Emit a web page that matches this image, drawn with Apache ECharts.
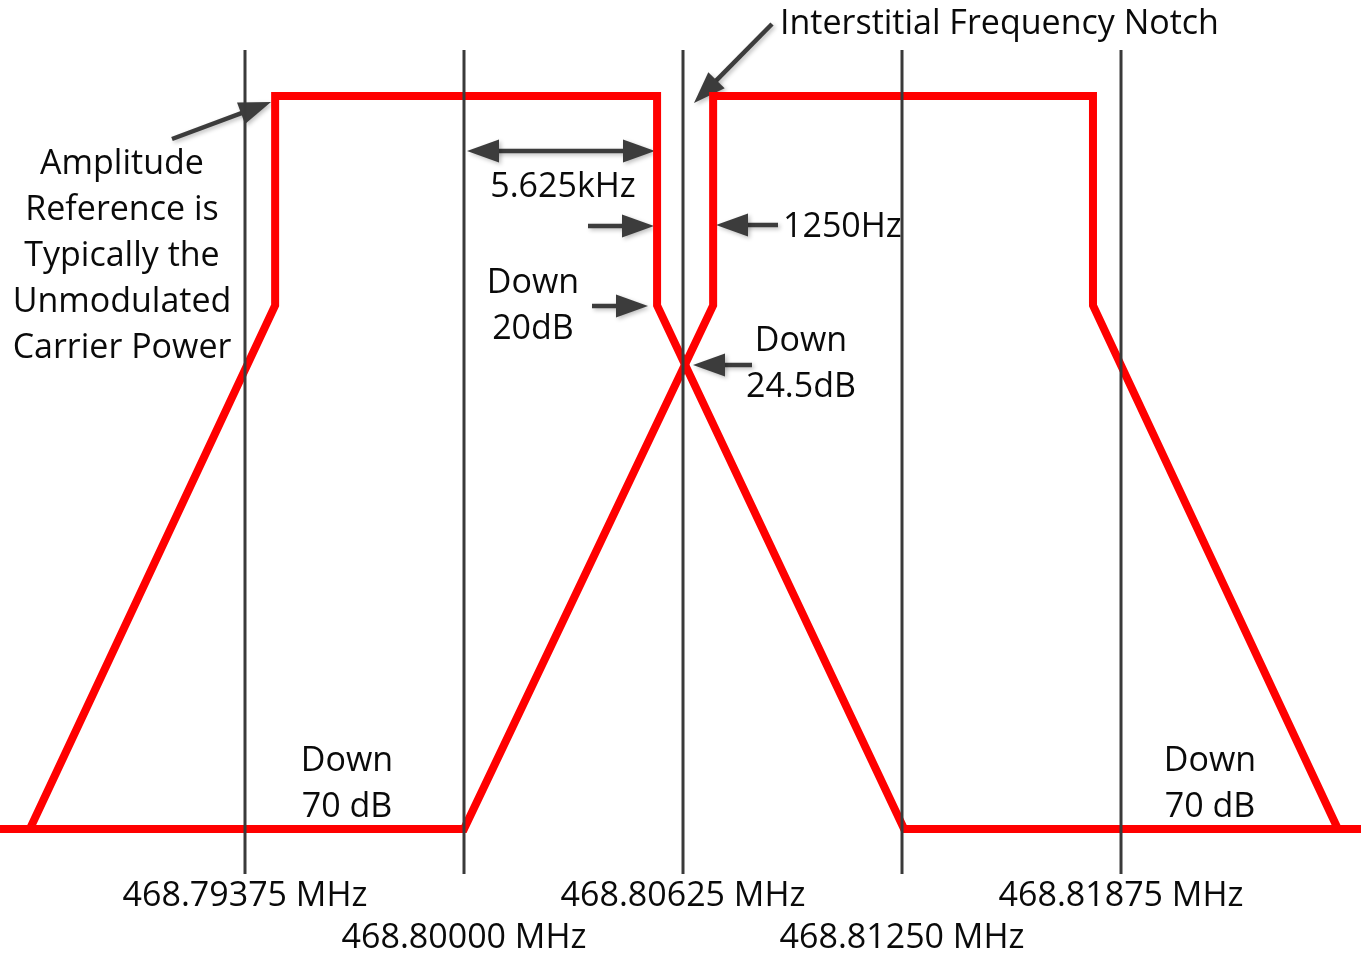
<!DOCTYPE html>
<html>
<head>
<meta charset="utf-8">
<script src="https://cdn.jsdelivr.net/npm/echarts@6/dist/echarts.min.js"></script>
<style>
html,body{margin:0;padding:0;background:#fff;}
#chart{width:1361px;height:954px;}
</style>
</head>
<body>
<div id="chart"></div>
<script>
// ---- data (frequency in MHz, level in dB relative to carrier) ----
const tickFreqs = [468.79375, 468.80000, 468.80625, 468.81250, 468.81875];
const tickLabels = ['468.79375 MHz', '468.80000 MHz', '468.80625 MHz', '468.81250 MHz', '468.81875 MHz'];
const lowerChannelFreq = [468.78676, 468.78761, 468.79461, 468.79461, 468.80551, 468.80551, 468.81256, 468.82560];
const lowerChannelDb   = [-70, -70, -20, 0, 0, -20, -70, -70];
const upperChannelFreq = [468.78676, 468.80000, 468.80711, 468.80711, 468.81795, 468.81795, 468.82494, 468.82560];
const upperChannelDb   = [-70, -70, -20, 0, 0, -20, -70, -70];
const markerTopDb = 4.4;
const markerBottomDb = -74.3;

const FONT = 'Open Sans';
const FS = 34;
const TXT = '#0a0a0a';
const ARROW = '#3c3c3c';
const X_MIN = 468.786758, X_MAX = 468.825599;

const chart = echarts.init(document.getElementById('chart'), null, {renderer: 'canvas'});

function zip(xs, ys) { return xs.map((x, i) => [x, ys[i]]); }

const redStyle = {color: '#ff0000', width: 8, join: 'miter', cap: 'butt'};

const series = [
  {type: 'line', data: zip(lowerChannelFreq, lowerChannelDb), showSymbol: false, symbol: 'none',
   lineStyle: redStyle, clip: false, z: 2, silent: true, animation: false},
  {type: 'line', data: zip(upperChannelFreq, upperChannelDb), showSymbol: false, symbol: 'none',
   lineStyle: redStyle, clip: false, z: 2, silent: true, animation: false}
];
tickFreqs.forEach(f => {
  series.push({type: 'line', data: [[f, markerTopDb], [f, markerBottomDb]], symbol: 'none',
    lineStyle: {color: '#3a3a3a', width: 3}, clip: false, z: 5, silent: true, animation: false});
});

function labelAxis(values, margin) {
  return {
    type: 'value', min: X_MIN, max: X_MAX, position: 'bottom', gridIndex: 0,
    axisLine: {show: false}, axisTick: {show: false}, splitLine: {show: false},
    axisLabel: {
      show: true, customValues: values, margin: margin,
      hideOverlap: false, showMinLabel: true, showMaxLabel: true,
      fontFamily: FONT, fontSize: FS, color: TXT, lineHeight: 40,
      formatter: function (v) {
        const i = tickFreqs.findIndex(t => Math.abs(t - v) < 1e-7);
        return i < 0 ? '' : tickLabels[i];
      }
    }
  };
}

const option = {
  backgroundColor: '#ffffff',
  animation: false,
  grid: {left: 0, right: 0, top: 96, bottom: 125, containLabel: false, outerBoundsMode: 'none'},
  xAxis: [
    labelAxis(tickFreqs.filter((_, i) => i % 2 === 0), 47),
    labelAxis(tickFreqs.filter((_, i) => i % 2 === 1), 89)
  ],
  yAxis: {type: 'value', min: -70, max: 0, show: false},
  series: series
};
chart.setOption(option);

// ---- annotations ----
function arrowEl(x1, y1, x2, y2, both) {
  const hl = 32, hw = 11.5;
  const dx = x2 - x1, dy = y2 - y1, L = Math.hypot(dx, dy);
  const ux = dx / L, uy = dy / L, nx = -uy, ny = ux;
  const head = (tx, ty, sx, sy) => ({
    type: 'polygon',
    shape: {points: [[tx, ty], [tx - sx * hl + nx * hw, ty - sy * hl + ny * hw], [tx - sx * hl - nx * hw, ty - sy * hl - ny * hw]]},
    style: {fill: ARROW, shadowBlur: 4, shadowColor: 'rgba(0,0,0,0.25)', shadowOffsetX: 2, shadowOffsetY: 2}
  });
  const sx1 = both ? x1 + ux * (hl - 4) : x1;
  const sy1 = both ? y1 + uy * (hl - 4) : y1;
  const children = [
    {type: 'line', shape: {x1: sx1, y1: sy1, x2: x2 - ux * (hl - 4), y2: y2 - uy * (hl - 4)},
     style: {stroke: ARROW, lineWidth: 4.5, shadowBlur: 4, shadowColor: 'rgba(0,0,0,0.25)', shadowOffsetX: 2, shadowOffsetY: 2}},
    head(x2, y2, ux, uy)
  ];
  if (both) children.push(head(x1, y1, -ux, -uy));
  return {type: 'group', z: 20, children: children};
}
function textEl(x, y, s, align) {
  return {type: 'text', z: 20, x: x, y: y,
    style: {text: s, font: FS + 'px "' + FONT + '"', fill: TXT, align: align || 'center', verticalAlign: 'middle', lineHeight: 46}};
}

const graphics = [
  textEl(780, 24, 'Interstitial Frequency Notch', 'left'),
  textEl(122, 256, 'Amplitude\nReference is\nTypically the\nUnmodulated\nCarrier Power'),
  textEl(563, 187, '5.625kHz'),
  textEl(533, 306, 'Down\n20dB'),
  textEl(783, 227, '1250Hz', 'left'),
  textEl(801, 364, 'Down\n24.5dB'),
  textEl(347, 784, 'Down\n70 dB'),
  textEl(1210, 784, 'Down\n70 dB'),
  arrowEl(172, 139, 271, 102),
  arrowEl(467, 151, 655, 151, true),
  arrowEl(588, 226, 654, 226),
  arrowEl(592, 306, 648, 306),
  arrowEl(778, 225, 716, 225),
  arrowEl(752, 365, 693, 365),
  arrowEl(772, 24, 694, 103)
];
chart.setOption({graphic: {elements: graphics}});
</script>
</body>
</html>
